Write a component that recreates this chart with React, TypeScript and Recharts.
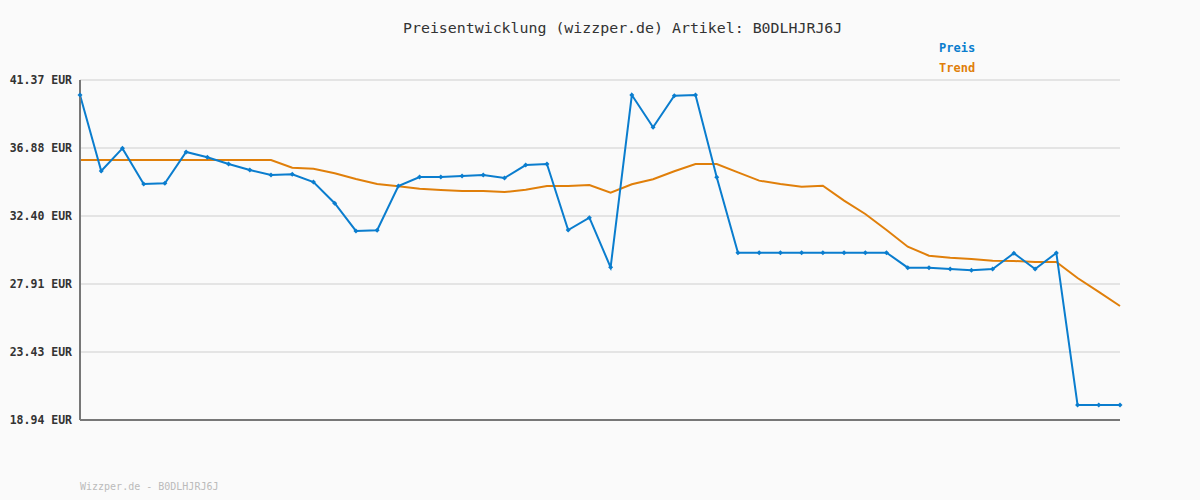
import React from 'react';
import { LineChart, Line, XAxis, YAxis, CartesianGrid } from 'recharts';

const preis: number[] = [
  40.38, 35.37, 36.86, 34.51, 34.56, 36.62, 36.27, 35.83, 35.43, 35.10,
  35.15, 34.64, 33.24, 31.41, 31.46, 34.38, 34.97, 34.97, 35.04, 35.10,
  34.90, 35.76, 35.83, 31.47, 32.29, 29.01, 40.38, 38.25, 40.33, 40.38,
  34.95, 29.98, 29.98, 29.98, 29.98, 29.98, 29.98, 29.98, 29.98, 28.99,
  28.99, 28.90, 28.82, 28.90, 29.94, 28.90, 29.96, 19.93, 19.93, 19.93,
];

const trend: number[] = [
  36.09, 36.09, 36.09, 36.09, 36.09, 36.09, 36.09, 36.09, 36.09, 36.09,
  35.58, 35.52, 35.22, 34.84, 34.51, 34.36, 34.20, 34.11, 34.05, 34.05,
  33.98, 34.13, 34.38, 34.38, 34.44, 33.94, 34.49, 34.82, 35.35, 35.83,
  35.83, 35.28, 34.73, 34.51, 34.33, 34.40, 33.41, 32.53, 31.47, 30.37,
  29.78, 29.65, 29.56, 29.45, 29.43, 29.37, 29.37, 28.31, 27.39, 26.46,
];

const yTicks: number[] = [18.94, 23.43, 27.91, 32.40, 36.88, 41.37];

const title = 'Preisentwicklung (wizzper.de) Artikel: B0DLHJRJ6J';
const footer = 'Wizzper.de - B0DLHJRJ6J';

const data = preis.map((p, i) => ({ i, preis: p, trend: trend[i] }));

const BLUE = '#0a7dce';
const ORANGE = '#e07f0a';
const MONO = '"DejaVu Sans Mono", "Liberation Mono", monospace';

const PlusDot = (props: any) => {
  const { cx, cy } = props;
  if (cx == null || cy == null) return null;
  return (
    <g>
      <path d={`M${cx - 2.5},${cy}L${cx},${cy - 2.5}L${cx + 2.5},${cy}L${cx},${cy + 2.5}Z`} fill={BLUE} stroke="none" />
    </g>
  );
};

export default function App() {
  return (
    <div style={{ position: 'fixed', left: 0, top: 0, width: 1200, height: 500, background: '#fafafa' }}>
      <div style={{ position: 'absolute', left: 403, top: 19, whiteSpace: 'nowrap', fontFamily: MONO, fontSize: 14.9, color: '#333' }}>
        {title}
      </div>
      <div style={{ position: 'absolute', left: 939, top: 41, fontFamily: MONO, fontSize: 12, fontWeight: 'bold', color: BLUE }}>
        Preis
      </div>
      <div style={{ position: 'absolute', left: 939, top: 61, fontFamily: MONO, fontSize: 12, fontWeight: 'bold', color: ORANGE }}>
        Trend
      </div>
      <div style={{ position: 'absolute', left: 80, top: 481, fontFamily: MONO, fontSize: 10, color: '#bbb' }}>
        {footer}
      </div>
      <LineChart width={1200} height={500} data={data} margin={{ top: 80, right: 80, bottom: 79, left: 0 }}>
        <CartesianGrid horizontal vertical={false} stroke="#e4e4e4" strokeWidth={2} />
        <XAxis
          dataKey="i"
          type="number"
          domain={[0, 49]}
          tick={false}
          tickLine={false}
          height={1}
          axisLine={{ stroke: '#777', strokeWidth: 2 }}
        />
        <YAxis
          type="number"
          domain={[18.94, 41.37]}
          ticks={yTicks}
          width={80}
          tickLine={false}
          tickSize={0}
          tickMargin={8}
          axisLine={{ stroke: '#777', strokeWidth: 2 }}
          tickFormatter={(v: number) => `${v.toFixed(2)} EUR`}
          tick={{ fontFamily: MONO, fontSize: 11.5, fontWeight: 'bold', fill: '#333' }}
          interval={0}
        />
        <Line type="linear" dataKey="trend" stroke={ORANGE} strokeWidth={2} dot={false} isAnimationActive={false} />
        <Line type="linear" dataKey="preis" stroke={BLUE} strokeWidth={2} dot={<PlusDot />} isAnimationActive={false} />
      </LineChart>
    </div>
  );
}
